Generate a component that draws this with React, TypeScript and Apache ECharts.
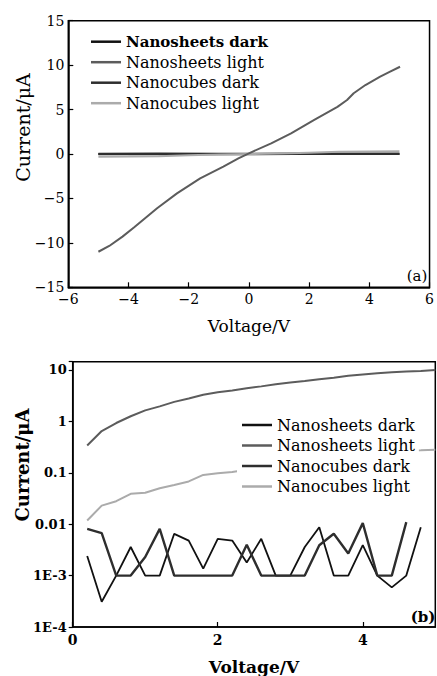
import { useEffect, useRef } from "react";
import * as echarts from "echarts";

const seriesNames = ["Nanosheets dark", "Nanosheets light", "Nanocubes dark", "Nanocubes light"];
const seriesColors = ["#111111", "#5c5c5c", "#2e2e2e", "#ababab"];
const seriesWidths = [1.8, 2, 2.4, 2];

// Panel (a): linear I-V, [voltage, current µA]
const aSheetsDark = [[-5, 0], [-3, 0], [-1, 0], [0, 0], [1, 0], [3, 0], [5, 0]];
const aSheetsLight = [
  [-5, -11.0], [-4.64, -10.35], [-4.2, -9.3], [-3.81, -8.25], [-3.05, -6.1], [-2.39, -4.43],
  [-1.62, -2.74], [-0.85, -1.42], [-0.35, -0.5], [0, 0.08], [0.74, 1.2], [1.4, 2.33],
  [2.17, 3.83], [2.94, 5.3], [3.26, 6.08], [3.48, 6.83], [3.87, 7.76], [4.36, 8.7],
  [4.69, 9.26], [5.02, 9.82],
];
const aCubesDark = [[-5, 0], [-3, 0.02], [-1, 0], [0, 0], [1.5, 0.02], [3, 0.03], [5, 0.03]];
const aCubesLight = [
  [-5, -0.3], [-4, -0.28], [-3, -0.25], [-2, -0.15], [-1, -0.05], [0, 0],
  [1, 0.05], [2, 0.15], [3, 0.25], [4, 0.28], [5, 0.3],
];

// Panel (b): log I-V
const bVoltage = [
  0.2, 0.4, 0.6, 0.8, 1.0, 1.2, 1.4, 1.6, 1.8, 2.0, 2.2, 2.4, 2.6,
  2.8, 3.0, 3.2, 3.4, 3.6, 3.8, 4.0, 4.2, 4.4, 4.6, 4.8, 5.0,
];
const bSheetsDark = [
  0.0024, 0.00031, 0.001, 0.0036, 0.001, 0.001, 0.0065, 0.0048, 0.00137, 0.0052, 0.0048, 0.0018,
  0.0052, 0.001, 0.001, 0.0036, 0.0087, 0.001, 0.001, 0.0039, 0.001, 0.00059, 0.001, 0.0087,
];
const bSheetsLight = [
  0.34, 0.65, 0.93, 1.26, 1.64, 1.96, 2.4, 2.8, 3.3, 3.7, 4.0, 4.4, 4.8,
  5.3, 5.7, 6.1, 6.6, 7.1, 7.7, 8.2, 8.6, 9.0, 9.3, 9.6, 10.0,
];
const bCubesDark = [
  0.0081, 0.0067, 0.001, 0.001, 0.0023, 0.0081, 0.001, 0.001, 0.001, 0.001, 0.001, 0.004,
  0.001, 0.001, 0.001, 0.001, 0.0039, 0.0065, 0.0027, 0.0105, 0.001, 0.001, 0.011,
];
const bCubesLight = [
  0.0118, 0.023, 0.028, 0.039, 0.041, 0.05, 0.058, 0.068, 0.091, 0.098, 0.104, 0.115, 0.13,
  0.14, 0.155, 0.17, 0.185, 0.2, 0.215, 0.23, 0.245, 0.26, 0.272, 0.275, 0.28,
];

const xTicksA = { min: -6, max: 6, interval: 2 };
const yTicksA = { min: -15, max: 15, interval: 5 };
const xTicksB = { min: 0, max: 5, interval: 2 };
const yLogB = { min: 0.0001, max: 14.5 };

const FONT = "DejaVu Serif";

const zip = (xs: number[], ys: number[]) => ys.map((y, i) => [xs[i], y]);
const minus = (v: number) => String(v).replace("-", "\u2212");
const logLabel = (v: number) => {
  const l = Math.log10(v);
  const e = Math.round(l);
  if (Math.abs(l - e) > 1e-6) return "";
  if (e >= 0) return String(Math.pow(10, e));
  if (e >= -2) return Math.pow(10, e).toFixed(-e);
  return "1E" + e;
};

export default function App() {
  const ref = useRef<HTMLDivElement>(null);
  useEffect(() => {
    if (!ref.current) return;
    const chart = echarts.init(ref.current, undefined, { renderer: "svg" });
    const axisLine = { show: true, onZero: false, lineStyle: { color: "#000", width: 1.5 } };
    const label = (extra: any = {}) => ({
      color: "#000",
      fontFamily: FONT,
      fontSize: 14,
      ...extra,
    });
    const aData = [aSheetsDark, aSheetsLight, aCubesDark, aCubesLight];
    const bData = [
      zip(bVoltage, bSheetsDark),
      zip(bVoltage, bSheetsLight),
      zip(bVoltage, bCubesDark),
      zip(bVoltage, bCubesLight),
    ];
    const mk = (i: number, data: number[][], gi: number) => ({
      type: "line",
      name: seriesNames[i],
      xAxisIndex: gi,
      yAxisIndex: gi,
      data,
      symbol: "none",
      showSymbol: false,
      lineStyle: { color: seriesColors[i], width: seriesWidths[i] },
      itemStyle: { color: seriesColors[i] },
      z: i === 1 ? 3 : 2,
    });
    const legendBase = {
      orient: "vertical",
      icon: "rect",
      itemWidth: 30,
      itemHeight: 2.5,
      itemGap: 2.5,
      selectedMode: false,
      textStyle: { color: "#000", fontFamily: FONT, fontSize: 16, lineHeight: 18 },
    };
    chart.setOption({
      animation: false,
      textStyle: { fontFamily: FONT },
      grid: [
        { left: 68.3, top: 20.7, width: 365, height: 266.6, show: true, borderColor: "#000", borderWidth: 1.5 },
        { left: 72.7, top: 361.7, width: 362.6, height: 266.6, show: true, borderColor: "#000", borderWidth: 1.5 },
      ],
      xAxis: [
        {
          type: "value",
          gridIndex: 0,
          ...xTicksA,
          axisLine,
          axisTick: { inside: true, length: 5, lineStyle: { color: "#000", width: 1.2 } },
          axisLabel: label({ formatter: minus, margin: 5 }),
          splitLine: { show: false },
          name: "Voltage/V",
          nameLocation: "middle",
          nameGap: 30,
          nameTextStyle: { color: "#000", fontFamily: FONT, fontSize: 17 },
        },
        {
          type: "value",
          gridIndex: 1,
          ...xTicksB,
          axisLine,
          axisTick: { inside: true, length: 5, lineStyle: { color: "#000", width: 1.2 } },
          axisLabel: label({ margin: 6, fontWeight: "bold", showMaxLabel: false }),
          splitLine: { show: false },
          name: "Voltage/V",
          nameLocation: "middle",
          nameGap: 31,
          nameTextStyle: { color: "#000", fontFamily: FONT, fontSize: 17, fontWeight: "bold" },
        },
      ],
      yAxis: [
        {
          type: "value",
          gridIndex: 0,
          ...yTicksA,
          axisLine,
          axisTick: { inside: true, length: 5, lineStyle: { color: "#000", width: 1.2 } },
          axisLabel: label({ formatter: minus, margin: 4 }),
          splitLine: { show: false },
        },
        {
          type: "log",
          logBase: 10,
          gridIndex: 1,
          ...yLogB,
          axisLine,
          axisTick: { show: true, length: 4, lineStyle: { color: "#000", width: 1.2 } },
          axisLabel: label({ formatter: logLabel, margin: 6, fontWeight: "bold", fontSize: 13 }),
          splitLine: { show: false },
          minorTick: { show: false },
        },
      ],
      legend: [
        {
          ...legendBase,
          left: 91,
          top: 32.7,
          padding: 0,
          data: seriesNames.map((n, i) =>
            i === 0 ? { name: n, textStyle: { fontWeight: "bold", fontSize: 15 } } : { name: n }
          ),
        },
        {
          ...legendBase,
          left: 237,
          top: 414,
          padding: [2, 4, 2, 5],
          backgroundColor: "#ffffff",
          data: seriesNames.map((n) => ({ name: n })),
          z: 10,
        },
      ],
      graphic: [
        {
          type: "text",
          x: 23,
          y: 127.5,
          rotation: Math.PI / 2,
          style: { text: "Current/\u03bcA", fontSize: 19, fontFamily: FONT, fill: "#000", align: "center", verticalAlign: "middle" },
        },
        {
          type: "text",
          x: 22,
          y: 465,
          rotation: Math.PI / 2,
          style: { text: "Current/\u03bcA", fontSize: 18, fontWeight: "bold", fontFamily: FONT, fill: "#000", align: "center", verticalAlign: "middle" },
        },
        {
          type: "text",
          x: 417,
          y: 276,
          style: { text: "(a)", fontSize: 15, fontFamily: FONT, fill: "#000", align: "center", verticalAlign: "middle" },
        },
        {
          type: "text",
          x: 423,
          y: 617,
          style: { text: "(b)", fontSize: 15, fontWeight: "bold", fontFamily: FONT, fill: "#000", align: "center", verticalAlign: "middle" },
        },
      ],
      series: [
        ...aData.map((d, i) => mk(i, d, 0)),
        ...bData.map((d, i) => mk(i, d, 1)),
      ],
    });
    return () => chart.dispose();
  }, []);
  return (
    <div
      ref={ref}
      style={{ position: "fixed", left: 0, top: 0, width: 437, height: 676, background: "#fff" }}
    />
  );
}
